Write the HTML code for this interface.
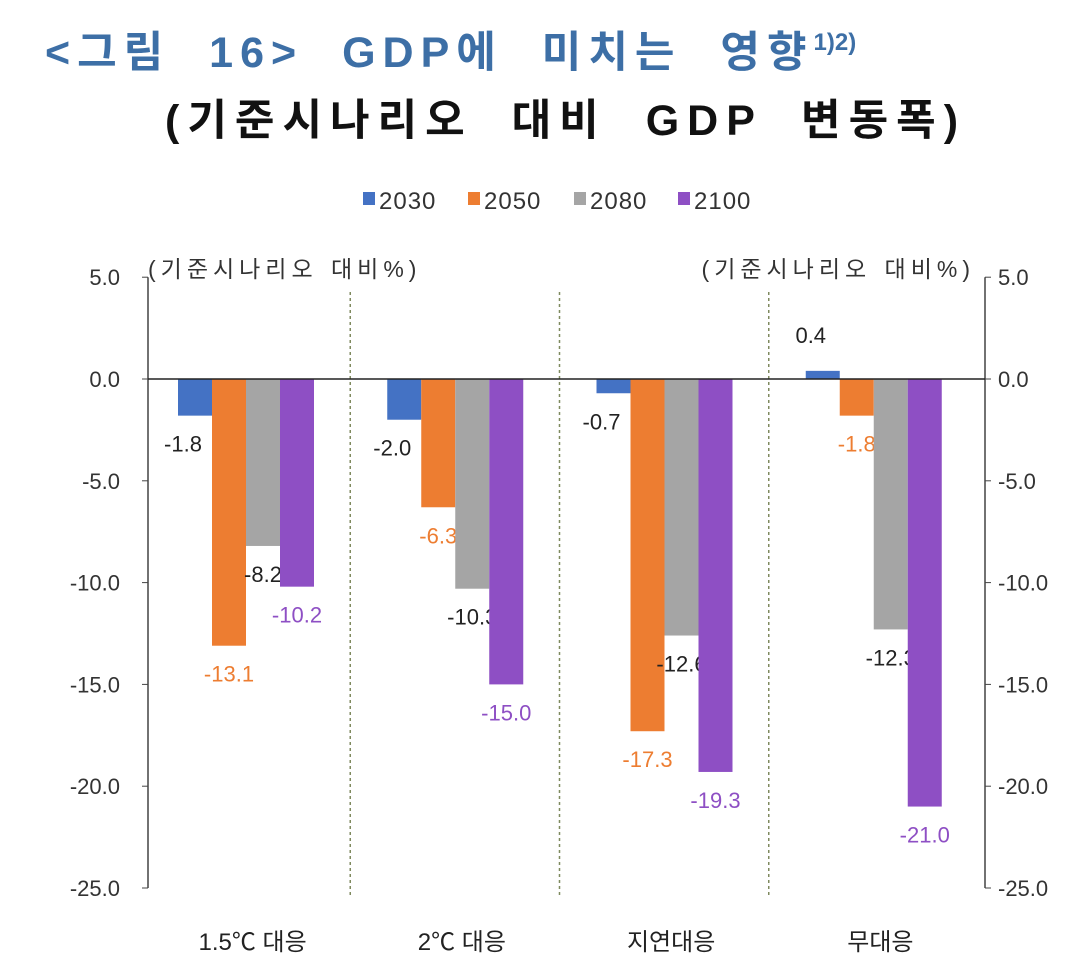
<!DOCTYPE html>
<html><head><meta charset="utf-8"><style>
body{margin:0;background:#fff;width:1077px;height:969px;overflow:hidden;font-family:"Liberation Sans","Noto Sans CJK KR",sans-serif}
</style></head><body>
<svg id="chart" width="1077" height="969" xmlns="http://www.w3.org/2000/svg" font-family="Liberation Sans, Noto Sans CJK KR, sans-serif">
<text x="45" y="67" font-size="43" font-weight="bold" fill="#3d6fa6" letter-spacing="7" word-spacing="20">&lt;그림 16&gt; GDP에 미치는 영향<tspan font-size="24" dy="-17" letter-spacing="0">1)2)</tspan></text>
<text x="165" y="135" font-size="43" font-weight="bold" fill="#111" letter-spacing="8" word-spacing="19">(기준시나리오 대비 GDP 변동폭)</text>
<text x="148" y="277" font-size="23" fill="#333" letter-spacing="5" word-spacing="2">(기준시나리오 대비%)</text>
<text x="975" y="277" text-anchor="end" font-size="23" fill="#333" letter-spacing="5" word-spacing="2">(기준시나리오 대비%)</text>
<g id="g"></g>
</svg>
<script>
const categories=["1.5℃ 대응","2℃ 대응","지연대응","무대응"];
const seriesNames=["2030","2050","2080","2100"];
const s2030=[-1.8,-2.0,-0.7,0.4];
const s2050=[-13.1,-6.3,-17.3,-1.8];
const s2080=[-8.2,-10.3,-12.6,-12.3];
const s2100=[-10.2,-15.0,-19.3,-21.0];
const ticks=[5,0,-5,-10,-15,-20,-25];
const tickLabels=["5.0","0.0","-5.0","-10.0","-15.0","-20.0","-25.0"];
const series=[s2030,s2050,s2080,s2100];
const colors=["#4472c4","#ed7d31","#a5a5a5","#8e4fc4"];
const labelColors=["#222","#ed7d31","#222","#8e4fc4"];
const NS="http://www.w3.org/2000/svg";
const g=document.getElementById('g');
const X0=148,X1=985,gw=(X1-X0)/4,bw=34;
const y=v=>379-(v)*101.8/5;
function mk(t,a,txt){const e=document.createElementNS(NS,t);for(const k in a)e.setAttribute(k,a[k]);if(txt!==undefined)e.textContent=txt;g.appendChild(e);return e;}
const lx=[363,468,574,678];
seriesNames.forEach((n,i)=>{
 const r=mk('rect',{x:lx[i],y:192,width:12,height:13,fill:colors[i]});
 
 
 const t=mk('text',{x:lx[i]+16,y:209,'font-size':24,fill:'#333','letter-spacing':1},n);
 
 
});
let a=mk('line',{x1:X0,y1:y(5),x2:X0,y2:y(-25),stroke:'#444','stroke-width':1.5});

a=mk('line',{x1:X1,y1:y(5),x2:X1,y2:y(-25),stroke:'#444','stroke-width':1.5});

ticks.forEach((v,i)=>{
 mk('line',{x1:X0-6,y1:y(v),x2:X0,y2:y(v),stroke:'#444'});
 mk('line',{x1:X1,y1:y(v),x2:X1+6,y2:y(v),stroke:'#444'});
 const t=mk('text',{x:120,y:y(v)+8,'text-anchor':'end','font-size':22,fill:'#333'},tickLabels[i]);
 
 const t2=mk('text',{x:998,y:y(v)+8,'font-size':22,fill:'#333'},tickLabels[i]);
 
});
for(let k=1;k<4;k++){
 const d=mk('line',{x1:X0+gw*k-7,y1:292,x2:X0+gw*k-7,y2:896,stroke:'#7f8a5f','stroke-width':1.5,'stroke-dasharray':'3,3'});
 
}
categories.forEach((c,ci)=>{
 const gx=X0+gw*ci;
 series.forEach((s,si)=>{
  const v=s[ci],bx=gx+30+si*bw;
  const top=Math.min(y(v),y(0)),h=Math.abs(y(v)-y(0));
  const r=mk('rect',{x:bx,y:top,width:bw,height:h,fill:colors[si]});
  
  
  const ly=v>=0?y(v)-28:y(v)+36;
  const t=mk('text',{x:bx+bw/2-(si==0?12:0),y:ly,'text-anchor':'middle','font-size':22,fill:labelColors[si]},v.toFixed(1));
  
  
 });
 const t=mk('text',{x:gx+gw/2,y:950,'text-anchor':'middle','font-size':24,fill:'#222'},c);
 
 
});
a=mk('line',{x1:X0,y1:y(0),x2:X1,y2:y(0),stroke:'#222','stroke-width':1.5});

</script>
</body></html>
